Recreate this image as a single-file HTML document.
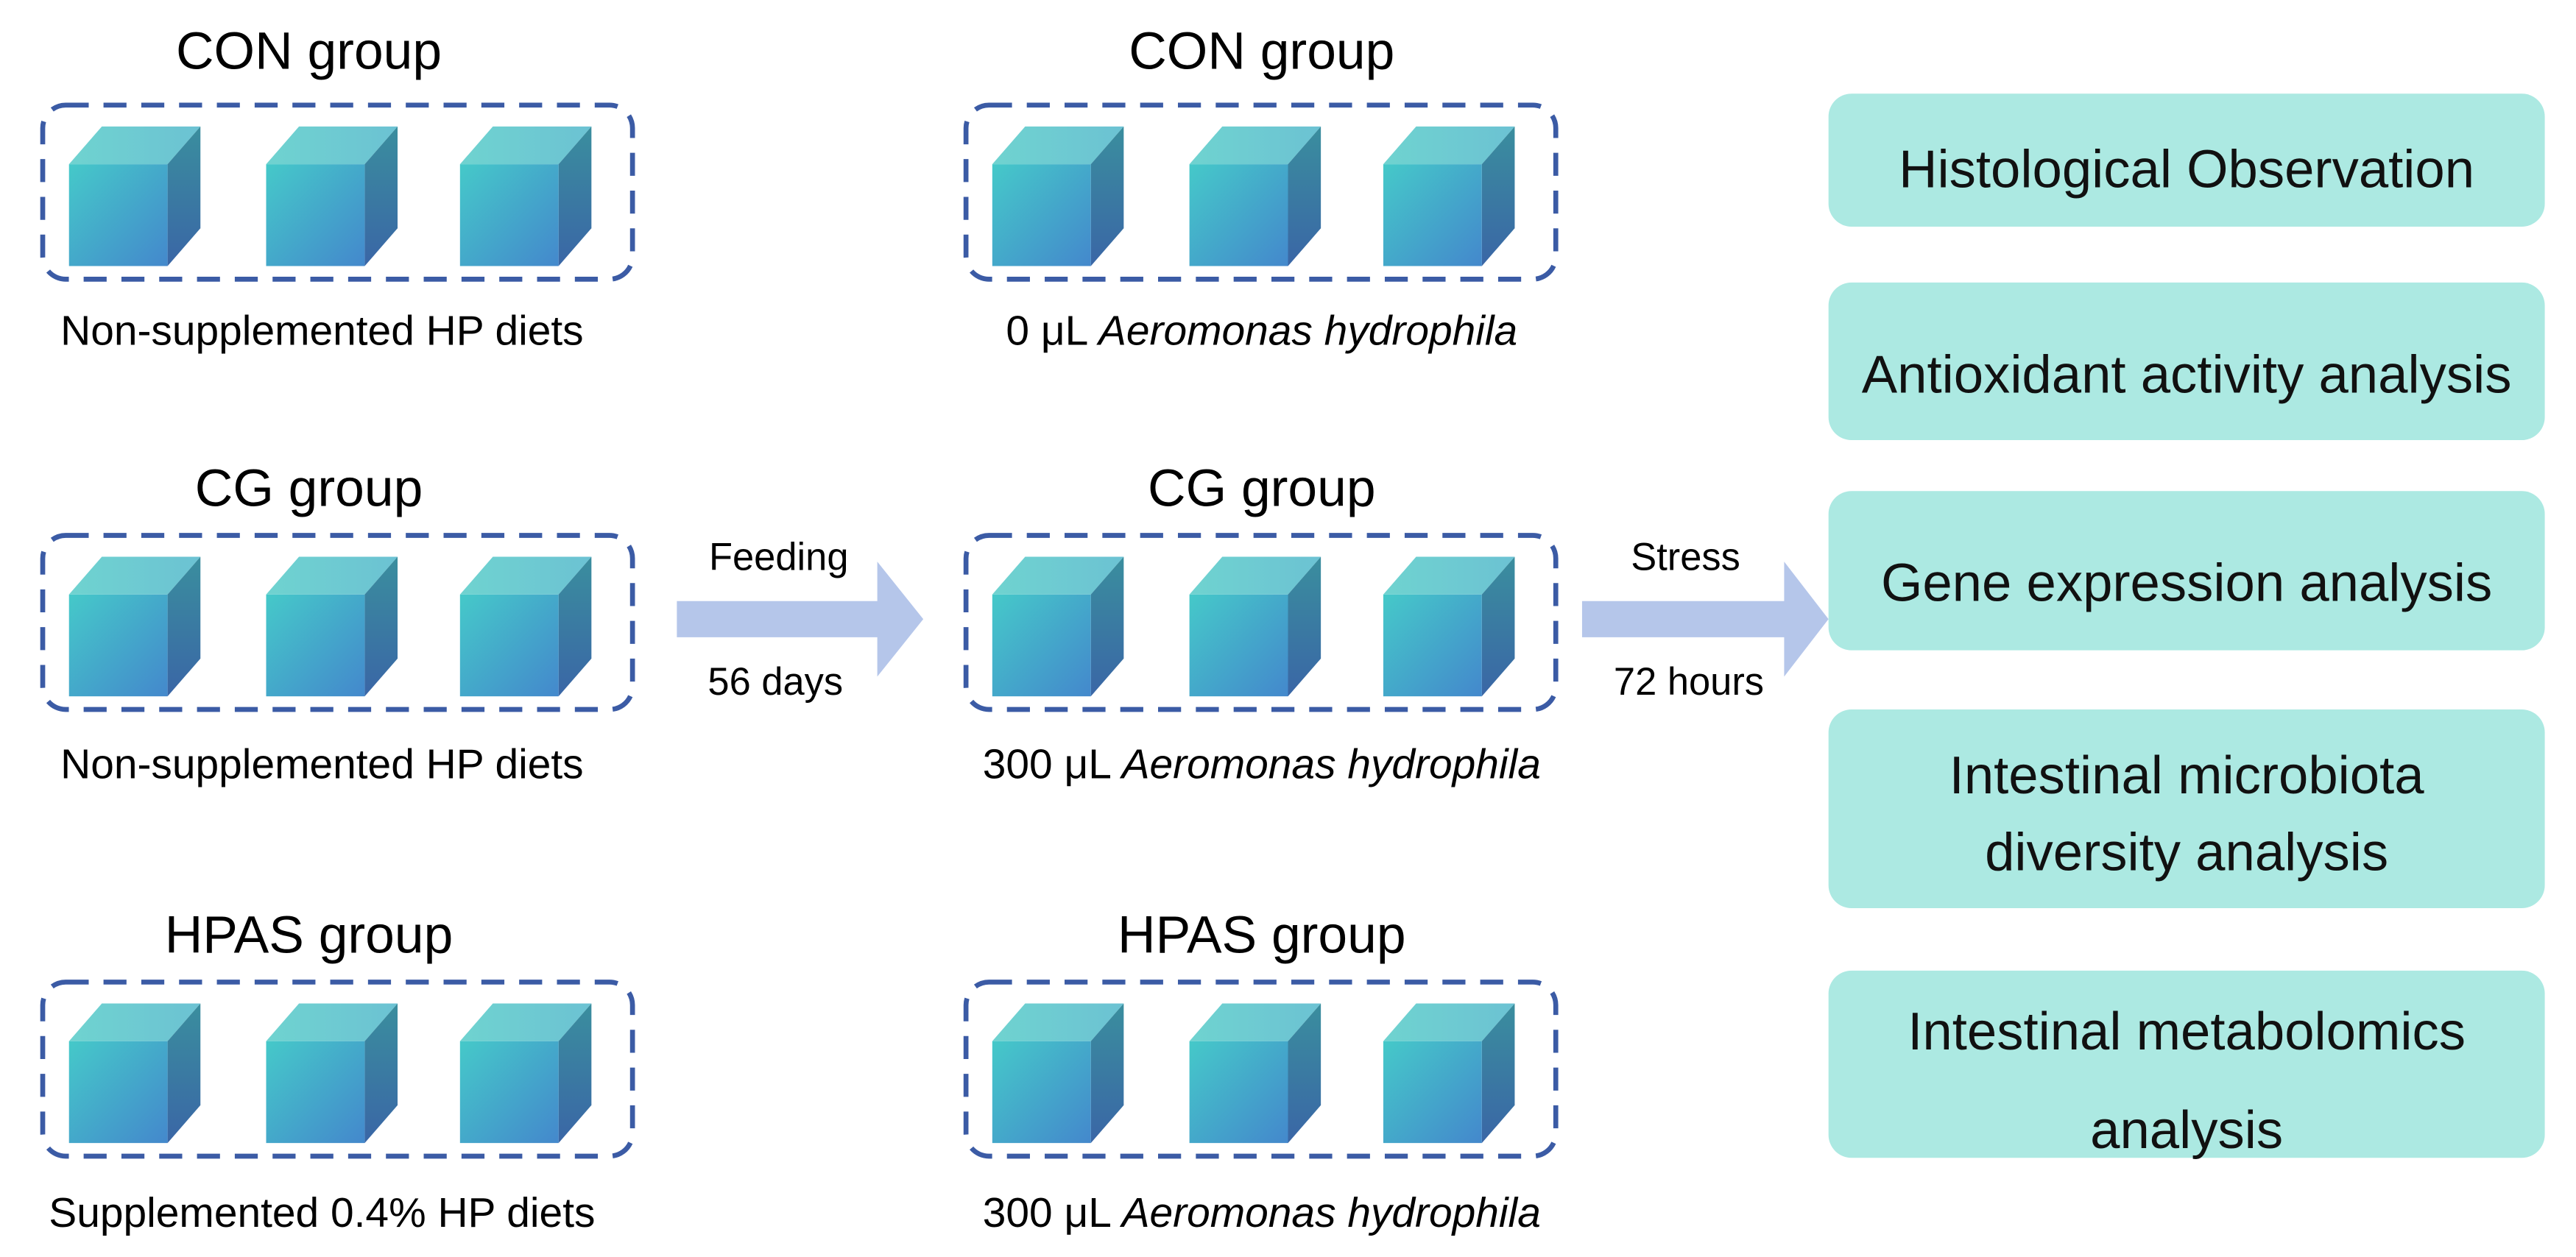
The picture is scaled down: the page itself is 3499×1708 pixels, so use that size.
<!DOCTYPE html>
<html><head><meta charset="utf-8"><style>html,body{margin:0;padding:0;background:#fff}svg{display:block}</style></head>
<body>
<svg width="3499" height="1708" viewBox="0 0 1568 765.4" preserveAspectRatio="none" xmlns="http://www.w3.org/2000/svg" font-family="Liberation Sans, sans-serif">
<defs>
<linearGradient id="fr" x1="0" y1="0" x2="1" y2="1"><stop offset="0" stop-color="#45c9c9"/><stop offset="1" stop-color="#4488cc"/></linearGradient>
<linearGradient id="tp" x1="0" y1="0" x2="1" y2="0"><stop offset="0" stop-color="#6fd3d0"/><stop offset="1" stop-color="#6cc2d3"/></linearGradient>
<linearGradient id="sd" x1="0" y1="0" x2="0" y2="1"><stop offset="0" stop-color="#3a8e9e"/><stop offset="1" stop-color="#3a66a6"/></linearGradient>
<g id="cube">
<polygon points="0,20 20,-3 80,-3 60,20" fill="url(#tp)"/>
<polygon points="60,20 80,-3 80,59 60,82" fill="url(#sd)"/>
<rect x="0" y="20" width="60" height="62" fill="url(#fr)"/>
</g>
<g id="grp">
<rect x="0" y="0" width="359" height="106" rx="14" fill="none" stroke="#3b5ba5" stroke-width="3" stroke-dasharray="14,9"/>
<use href="#cube" x="16" y="16"/>
<use href="#cube" x="136" y="16"/>
<use href="#cube" x="254" y="16"/>
</g>
</defs>
<g font-size="32" text-anchor="middle" fill="#000">
<text x="188" y="42">CON group</text>
<text x="188" y="308">CG group</text>
<text x="188" y="580">HPAS group</text>
<text x="768" y="42">CON group</text>
<text x="768" y="308">CG group</text>
<text x="768" y="580">HPAS group</text>
</g>
<use href="#grp" x="26" y="64"/>
<use href="#grp" x="26" y="326"/>
<use href="#grp" x="26" y="598"/>
<use href="#grp" x="588" y="64"/>
<use href="#grp" x="588" y="326"/>
<use href="#grp" x="588" y="598"/>
<g font-size="25.5" text-anchor="middle" fill="#000">
<text x="196" y="210">Non-supplemented HP diets</text>
<text x="196" y="474">Non-supplemented HP diets</text>
<text x="196" y="747">Supplemented 0.4% HP diets</text>
<text x="768" y="210">0 μL <tspan font-style="italic">Aeromonas hydrophila</tspan></text>
<text x="768" y="474">300 μL <tspan font-style="italic">Aeromonas hydrophila</tspan></text>
<text x="768" y="747">300 μL <tspan font-style="italic">Aeromonas hydrophila</tspan></text>
<text x="474" y="347" font-size="23.5">Feeding</text>
<text x="472" y="423" font-size="23.5">56 days</text>
<text x="1026" y="347" font-size="23.5">Stress</text>
<text x="1028" y="423" font-size="23.5">72 hours</text>
</g>
<polygon points="412,366 534,366 534,342 562,377 534,412 534,388 412,388" fill="#b5c6ea"/>
<polygon points="963,366 1086,366 1086,342 1113,377 1086,412 1086,388 963,388" fill="#b5c6ea"/>
<g fill="#ace9e2">
<rect x="1113" y="57" width="436" height="81" rx="14"/>
<rect x="1113" y="172" width="436" height="96" rx="14"/>
<rect x="1113" y="299" width="436" height="97" rx="14"/>
<rect x="1113" y="432" width="436" height="121" rx="14"/>
<rect x="1113" y="591" width="436" height="114" rx="14"/>
</g>
<g font-size="32.5" text-anchor="middle" fill="#111">
<text x="1331" y="114">Histological Observation</text>
<text x="1331" y="239">Antioxidant activity analysis</text>
<text x="1331" y="366">Gene expression analysis</text>
<text x="1331" y="483">Intestinal microbiota</text>
<text x="1331" y="530">diversity analysis</text>
<text x="1331" y="639">Intestinal metabolomics</text>
<text x="1331" y="699">analysis</text>
</g>
</svg>
</body></html>
